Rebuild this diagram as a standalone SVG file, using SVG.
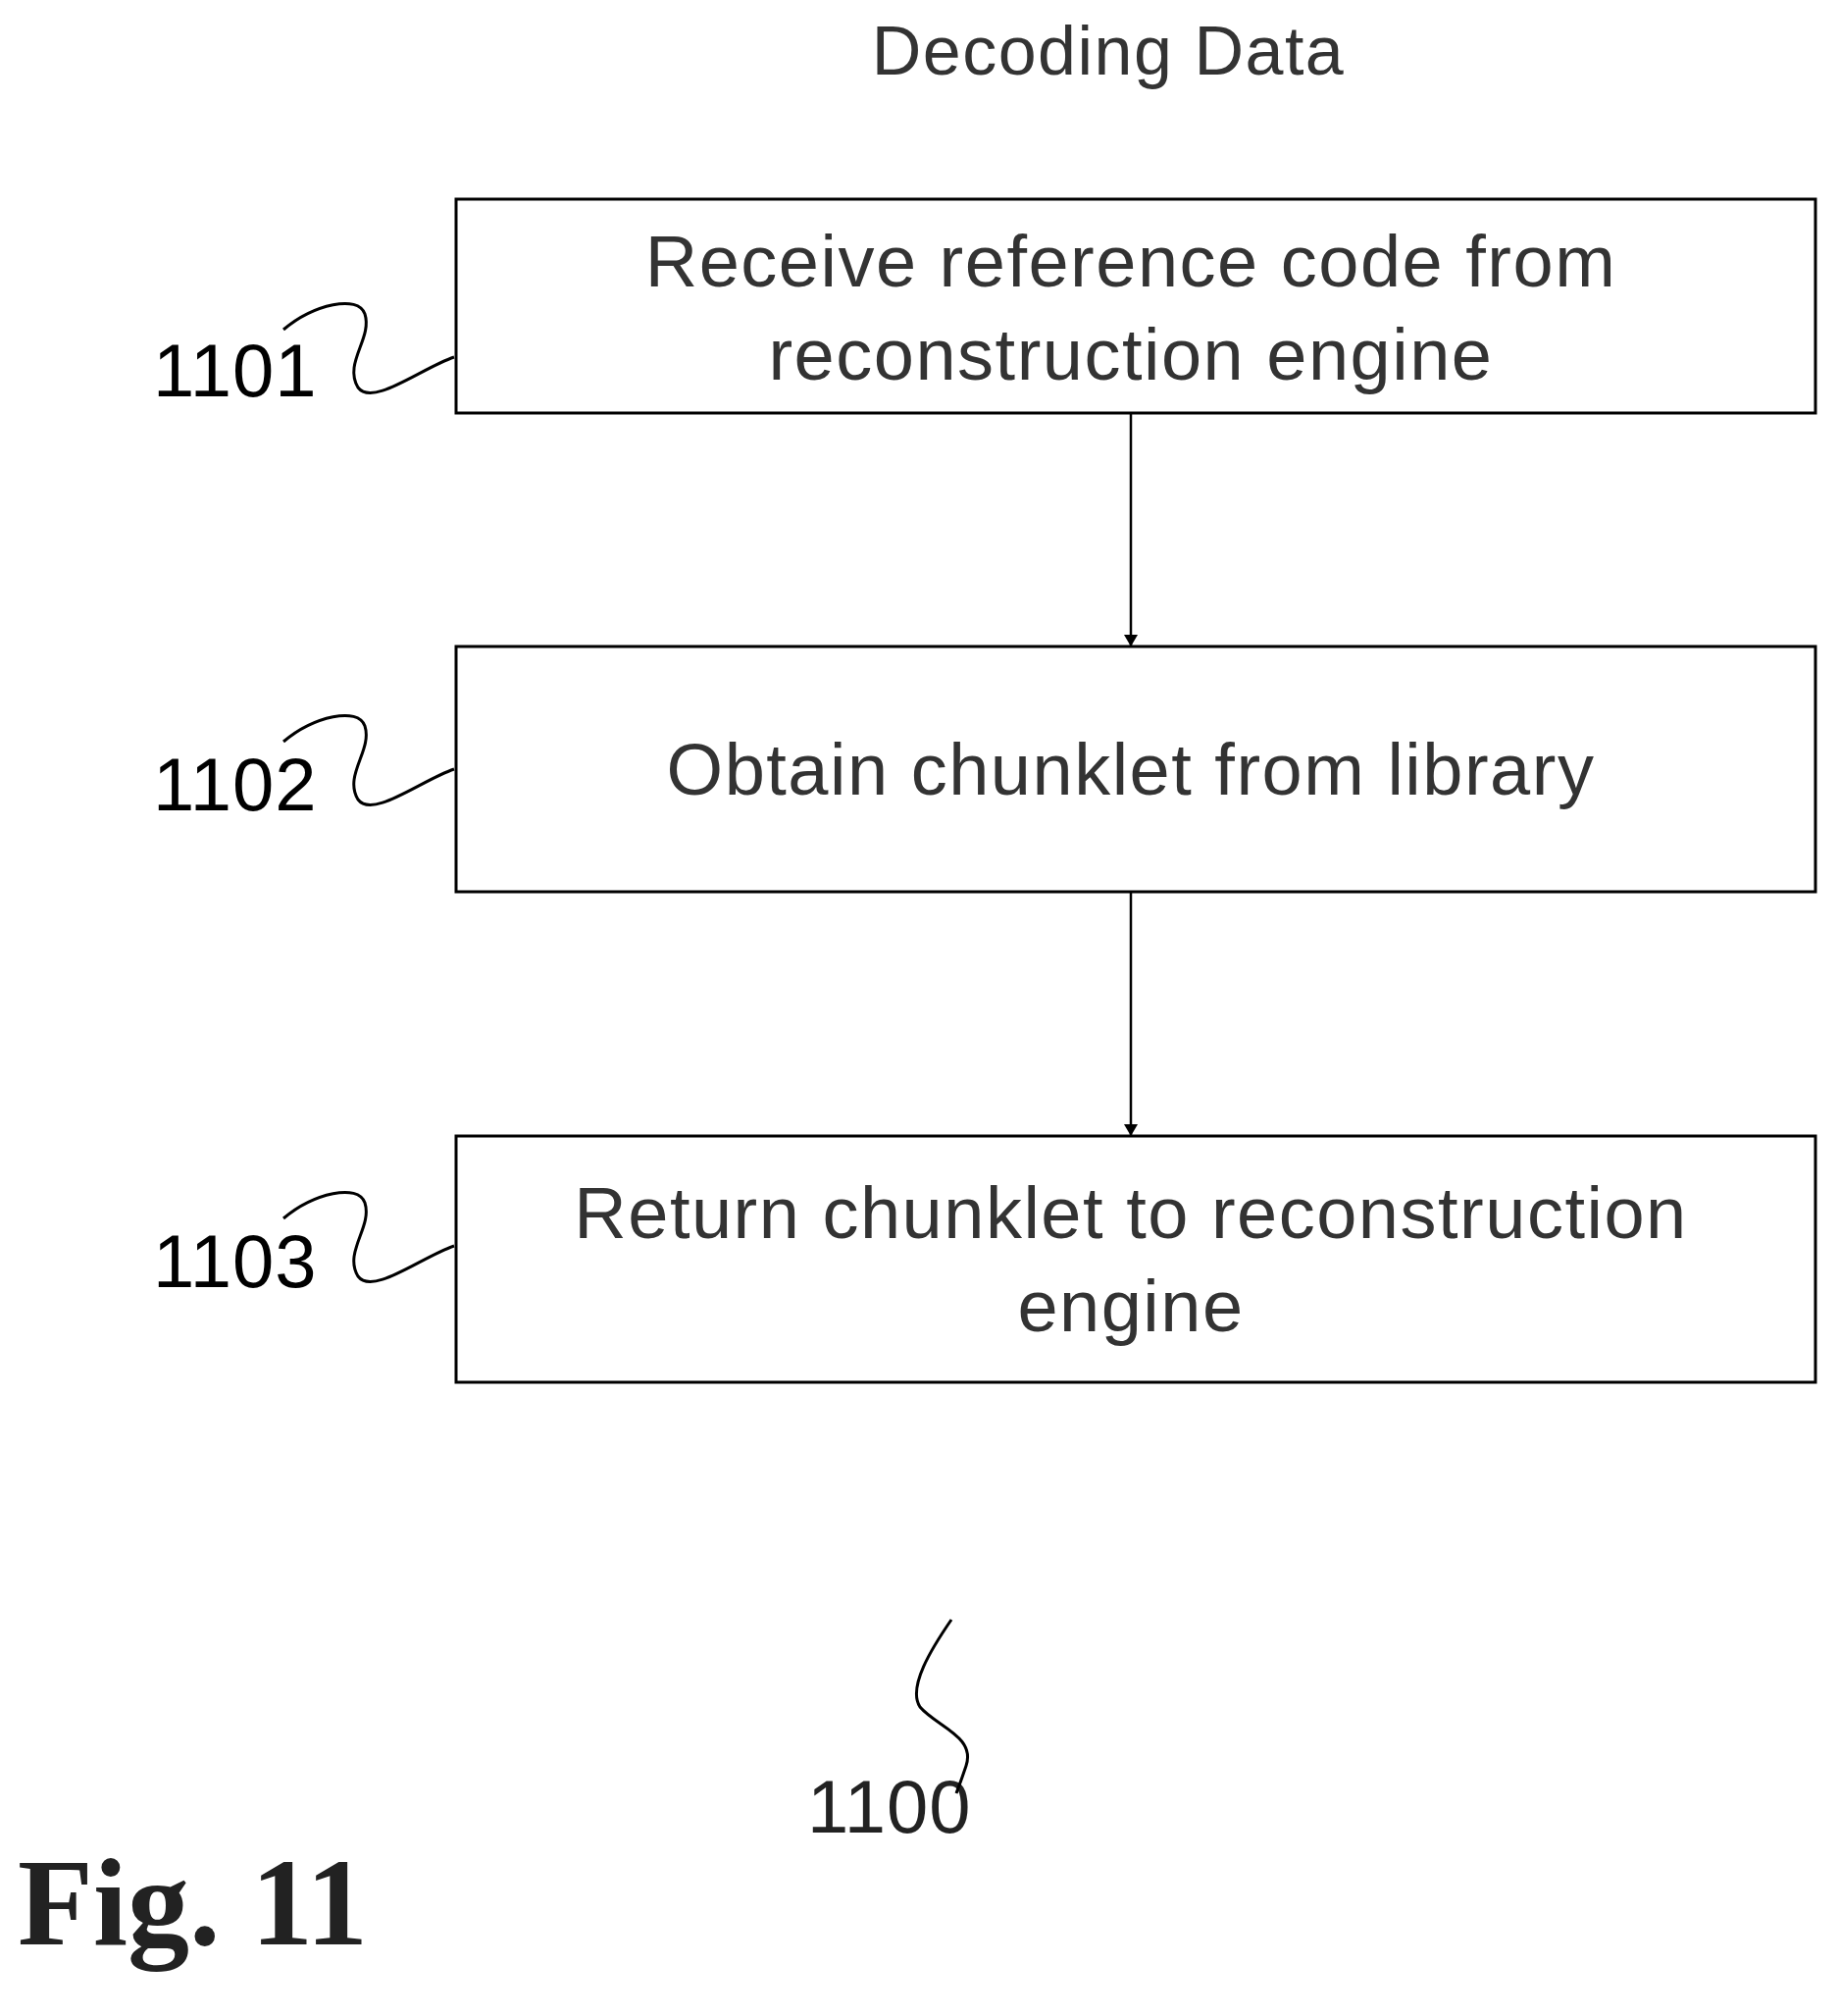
<svg xmlns="http://www.w3.org/2000/svg" width="1875" height="2055" viewBox="0 0 1875 2055">
<style>
.box{fill:#fff;stroke:#000;stroke-width:3}
.t{font-family:"Liberation Sans",Arial,sans-serif;font-size:74px;letter-spacing:1.5px;fill:#333;text-anchor:middle}
.lbl{font-family:"Liberation Sans",Arial,sans-serif;font-size:76px;letter-spacing:1px;fill:#000}
.sq{fill:none;stroke:#000;stroke-width:3}
.c{stroke:#000;stroke-width:2.5;fill:none;marker-end:url(#ah)}
</style>
<defs><marker id="ah" markerWidth="12" markerHeight="14" refX="11" refY="7" orient="auto" markerUnits="userSpaceOnUse"><path d="M0,0 L12,7 L0,14 z" fill="#000"/></marker></defs>
<rect width="1875" height="2055" fill="#fff"/>
<text x="1130" y="76" class="t" style="font-size:70px">Decoding Data</text>
<g id="n1101"><rect class="box" x="465" y="203" width="1386" height="218"/>
<text class="t" x="1153" y="292">Receive reference code from</text>
<text class="t" x="1153" y="387">reconstruction engine</text>
<text class="lbl" x="156" y="404">1101</text>
<path class="sq" d="M289,336 C320,310 365,300 372,320 C380,345 350,370 365,395 C380,415 430,375 463,364"/></g>
<g id="n1102"><rect class="box" x="465" y="659" width="1386" height="250"/>
<text class="t" x="1153" y="810">Obtain chunklet from library</text>
<text class="lbl" x="156" y="826">1102</text>
<path class="sq" d="M289,756 C320,730 365,720 372,740 C380,765 350,790 365,815 C380,835 430,795 463,784"/></g>
<g id="n1103"><rect class="box" x="465" y="1158" width="1386" height="251"/>
<text class="t" x="1153" y="1262">Return chunklet to reconstruction</text>
<text class="t" x="1153" y="1357">engine</text>
<text class="lbl" x="156" y="1312">1103</text>
<path class="sq" d="M289,1242 C320,1216 365,1206 372,1226 C380,1251 350,1276 365,1301 C380,1321 430,1281 463,1270"/></g>
<g id="n1100"><text class="lbl" x="823" y="1868" style="fill:#222">1100</text>
<path class="sq" d="M970,1651 C950,1680 925,1720 938,1740 C955,1760 995,1770 985,1800 C980,1815 978,1820 975,1828"/></g>
<g id="connectors">
<line class="c" x1="1153" y1="421" x2="1153" y2="658"/>
<line class="c" x1="1153" y1="909" x2="1153" y2="1157"/>
</g>
<text x="18" y="1982" style="font-family:'Liberation Serif','Times New Roman',serif;font-weight:bold;font-size:126px;fill:#222">Fig. 11</text>
</svg>
